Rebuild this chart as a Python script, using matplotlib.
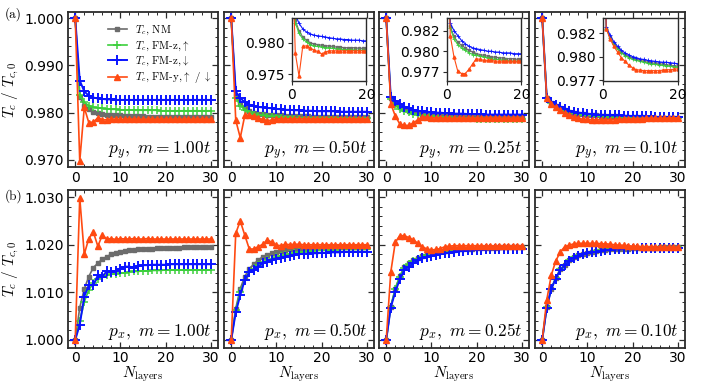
import numpy as np
import matplotlib
matplotlib.use("Agg")
import matplotlib.pyplot as plt
from matplotlib.ticker import MultipleLocator, FixedLocator

plt.rcParams['mathtext.fontset'] = 'cm'
plt.rcParams['font.family'] = 'DejaVu Sans'

N = np.arange(31)

# ---------------- top row: p_y ----------------
py_labels = ['1.00', '0.50', '0.25', '0.10']
py_nm = [
    [1.000, 0.9834, 0.9815, 0.9807, 0.9802, 0.9799, 0.9797, 0.9796, 0.9795, 0.9794, 0.9794, 0.9793, 0.9793, 0.9792, 0.9792, 0.9792,
     0.9791, 0.9791, 0.9791, 0.9791, 0.9791, 0.9790, 0.9790, 0.9790, 0.9790, 0.9790, 0.9790, 0.9790, 0.9790, 0.9790, 0.9790],
    [1.000, 0.9836, 0.9819, 0.9809, 0.9804, 0.9800, 0.9798, 0.9797, 0.9796, 0.9795, 0.9795, 0.9794, 0.9793, 0.9793, 0.9792, 0.9792,
     0.9792, 0.9792, 0.9791, 0.9791, 0.9791, 0.9791, 0.9791, 0.9790, 0.9790, 0.9790, 0.9790, 0.9790, 0.9790, 0.9790, 0.9790],
    [1.000, 0.9830, 0.9818, 0.9811, 0.9807, 0.9804, 0.9801, 0.9799, 0.9797, 0.9796, 0.9795, 0.9794, 0.9793, 0.9793, 0.9792, 0.9792,
     0.9791, 0.9791, 0.9791, 0.9790, 0.9790, 0.9790, 0.9790, 0.9790, 0.9790, 0.9790, 0.9790, 0.9790, 0.9790, 0.9790, 0.9790],
    [1.000, 0.9831, 0.9821, 0.9814, 0.9809, 0.9805, 0.9802, 0.9800, 0.9798, 0.9797, 0.9796, 0.9795, 0.9794, 0.9793, 0.9793, 0.9792,
     0.9792, 0.9791, 0.9791, 0.9790, 0.9790, 0.9790, 0.9790, 0.9789, 0.9789, 0.9789, 0.9789, 0.9789, 0.9789, 0.9789, 0.9789],
]
py_up = [
    [1.000, 0.9838, 0.9822, 0.9815, 0.9812, 0.9810, 0.9809, 0.9808, 0.9807, 0.9807, 0.9806, 0.9806, 0.9806, 0.9805, 0.9805, 0.9805,
     0.9805, 0.9805, 0.9805, 0.9804, 0.9804, 0.9804, 0.9804, 0.9804, 0.9804, 0.9804, 0.9804, 0.9804, 0.9804, 0.9804, 0.9804],
    [1.000, 0.9832, 0.9815, 0.9806, 0.9801, 0.9797, 0.9795, 0.9794, 0.9793, 0.9792, 0.9792, 0.9791, 0.9790, 0.9790, 0.9789, 0.9789,
     0.9789, 0.9788, 0.9788, 0.9788, 0.9788, 0.9788, 0.9788, 0.9788, 0.9788, 0.9788, 0.9788, 0.9788, 0.9788, 0.9788, 0.9788],
    [1.000, 0.9828, 0.9815, 0.9808, 0.9804, 0.9801, 0.9798, 0.9796, 0.9795, 0.9794, 0.9793, 0.9792, 0.9791, 0.9790, 0.9790, 0.9789,
     0.9789, 0.9788, 0.9788, 0.9788, 0.9787, 0.9787, 0.9787, 0.9787, 0.9787, 0.9787, 0.9787, 0.9787, 0.9787, 0.9787, 0.9787],
    [1.000, 0.9830, 0.9820, 0.9813, 0.9808, 0.9804, 0.9801, 0.9799, 0.9797, 0.9796, 0.9795, 0.9794, 0.9793, 0.9792, 0.9792, 0.9791,
     0.9791, 0.9790, 0.9790, 0.9789, 0.9789, 0.9789, 0.9789, 0.9788, 0.9788, 0.9788, 0.9788, 0.9788, 0.9788, 0.9788, 0.9788],
]
py_dn = [
    [1.000, 0.9868, 0.9845, 0.9836, 0.9832, 0.9830, 0.9829, 0.9828, 0.9828, 0.9827, 0.9827, 0.9827, 0.9827, 0.9827, 0.9827, 0.9827,
     0.9827, 0.9827, 0.9827, 0.9827, 0.9827, 0.9827, 0.9827, 0.9827, 0.9827, 0.9827, 0.9827, 0.9827, 0.9827, 0.9827, 0.9827],
    [1.000, 0.9845, 0.9831, 0.9822, 0.9817, 0.9814, 0.9812, 0.9811, 0.9810, 0.9809, 0.9808, 0.9807, 0.9806, 0.9806, 0.9805, 0.9805,
     0.9804, 0.9804, 0.9804, 0.9803, 0.9803, 0.9803, 0.9803, 0.9803, 0.9802, 0.9802, 0.9802, 0.9802, 0.9802, 0.9802, 0.9802],
    [1.000, 0.9834, 0.9825, 0.9819, 0.9813, 0.9809, 0.9806, 0.9804, 0.9803, 0.9802, 0.9801, 0.9800, 0.9800, 0.9799, 0.9799, 0.9798,
     0.9798, 0.9798, 0.9797, 0.9797, 0.9797, 0.9797, 0.9796, 0.9796, 0.9796, 0.9796, 0.9796, 0.9796, 0.9796, 0.9796, 0.9796],
    [1.000, 0.9832, 0.9823, 0.9816, 0.9811, 0.9807, 0.9804, 0.9802, 0.9800, 0.9799, 0.97975, 0.9797, 0.9796, 0.97955, 0.9795, 0.97945,
     0.9794, 0.9794, 0.97935, 0.9793, 0.97925, 0.9792, 0.9792, 0.9792, 0.9792, 0.9791, 0.9791, 0.9791, 0.9791, 0.9791, 0.9791],
]
py_y = [
    [1.000, 0.9697, 0.9811, 0.9779, 0.9780, 0.9789, 0.9785, 0.9785, 0.9787, 0.9786, 0.9786, 0.9786, 0.9787, 0.9786, 0.9786, 0.9786,
     0.9786, 0.9786, 0.9786, 0.9786, 0.9786, 0.9786, 0.9786, 0.9786, 0.9786, 0.9786, 0.9786, 0.9786, 0.9786, 0.9786, 0.9786],
    [1.000, 0.9784, 0.9747, 0.9794, 0.9795, 0.9792, 0.9788, 0.9786, 0.9782, 0.9785, 0.9787, 0.9787, 0.9787, 0.9787, 0.9787, 0.9787,
     0.9787, 0.9787, 0.9787, 0.9787, 0.9787, 0.9787, 0.9787, 0.9787, 0.9787, 0.9787, 0.9787, 0.9787, 0.9787, 0.9787, 0.9787],
    [1.000, 0.9819, 0.9793, 0.9776, 0.9773, 0.9773, 0.9778, 0.9785, 0.9791, 0.9790, 0.9789, 0.9789, 0.9789, 0.9788, 0.9788, 0.9788,
     0.9788, 0.9788, 0.9788, 0.9788, 0.9788, 0.9788, 0.9788, 0.9788, 0.9788, 0.9788, 0.9788, 0.9788, 0.9788, 0.9788, 0.9788],
    [1.000, 0.9830, 0.9819, 0.9811, 0.9805, 0.9799, 0.9795, 0.9791, 0.9788, 0.9786, 0.97856, 0.9785, 0.9785, 0.9785, 0.9785, 0.9785,
     0.97855, 0.9786, 0.9786, 0.97865, 0.9787, 0.9787, 0.97875, 0.9788, 0.9788, 0.9788, 0.9788, 0.9788, 0.9789, 0.9789, 0.9789],
]

# ---------------- bottom row: p_x ----------------
px_nm = [
    [1.000, 1.0068, 1.0107, 1.0133, 1.0152, 1.0161, 1.0170, 1.0175, 1.0180, 1.0183, 1.0185, 1.0187, 1.0188, 1.0189, 1.0190, 1.0191,
     1.0192, 1.0192, 1.0193, 1.0193, 1.0194, 1.0194, 1.0194, 1.0194, 1.0195, 1.0195, 1.0195, 1.0195, 1.0195, 1.0195, 1.0195],
    [1.000, 1.0066, 1.0108, 1.0133, 1.0150, 1.0159, 1.0168, 1.0175, 1.0178, 1.0182, 1.0185, 1.0187, 1.0189, 1.0190, 1.0191, 1.0192,
     1.0192, 1.0193, 1.0193, 1.0194, 1.0194, 1.0195, 1.0195, 1.0195, 1.0195, 1.0196, 1.0196, 1.0196, 1.0196, 1.0196, 1.0196],
    [1.000, 1.0070, 1.0108, 1.0134, 1.0153, 1.0161, 1.0167, 1.0173, 1.0177, 1.0180, 1.0182, 1.0184, 1.0186, 1.0187, 1.0188, 1.0189,
     1.0190, 1.0191, 1.0192, 1.0192, 1.0193, 1.0193, 1.0194, 1.0194, 1.0194, 1.0195, 1.0195, 1.0195, 1.0195, 1.0195, 1.0195],
    [1.000, 1.0069, 1.0108, 1.0130, 1.0148, 1.0158, 1.0167, 1.0174, 1.0178, 1.0181, 1.0183, 1.0185, 1.0186, 1.0188, 1.0189, 1.0190,
     1.0191, 1.0191, 1.0192, 1.0192, 1.0193, 1.0193, 1.0194, 1.0194, 1.0194, 1.0194, 1.0195, 1.0195, 1.0195, 1.0195, 1.0195],
]
px_up = [
    [1.000, 1.0040, 1.0080, 1.0105, 1.0119, 1.0128, 1.0133, 1.0136, 1.0138, 1.0139, 1.0140, 1.0141, 1.0143, 1.0144, 1.0144, 1.0145,
     1.0145, 1.0146, 1.0146, 1.0146, 1.0147, 1.0147, 1.0147, 1.0147, 1.0147, 1.0147, 1.0147, 1.0147, 1.0147, 1.0147, 1.0147],
    [1.000, 1.0062, 1.0101, 1.0126, 1.0143, 1.0150, 1.0158, 1.0163, 1.0167, 1.0171, 1.0174, 1.0177, 1.0179, 1.0181, 1.0183, 1.0184,
     1.0185, 1.0186, 1.0187, 1.0188, 1.0188, 1.0189, 1.0189, 1.0189, 1.0190, 1.0190, 1.0190, 1.0190, 1.0190, 1.0190, 1.0190],
    [1.000, 1.0070, 1.0107, 1.0133, 1.0151, 1.0159, 1.0165, 1.0171, 1.0175, 1.0178, 1.0180, 1.0182, 1.0184, 1.0185, 1.0186, 1.0187,
     1.0188, 1.0189, 1.0190, 1.0190, 1.0191, 1.0191, 1.0192, 1.0192, 1.0192, 1.0193, 1.0193, 1.0193, 1.0193, 1.0193, 1.0193],
    [1.000, 1.0069, 1.0108, 1.0130, 1.0148, 1.0158, 1.0167, 1.0174, 1.0178, 1.0181, 1.0183, 1.0185, 1.0186, 1.0188, 1.0189, 1.0190,
     1.0191, 1.0191, 1.0192, 1.0192, 1.0193, 1.0193, 1.0194, 1.0194, 1.0194, 1.0194, 1.0195, 1.0195, 1.0195, 1.0195, 1.0195],
]
px_dn = [
    [1.000, 1.0032, 1.0091, 1.0115, 1.0115, 1.0136, 1.0133, 1.0145, 1.0143, 1.0144, 1.0150, 1.0154, 1.0154, 1.0152, 1.0155, 1.0157,
     1.0157, 1.0158, 1.0158, 1.0158, 1.0158, 1.0159, 1.0159, 1.0159, 1.0159, 1.0159, 1.0159, 1.0159, 1.0159, 1.0159, 1.0159],
    [1.000, 1.0058, 1.0094, 1.0126, 1.0142, 1.0147, 1.0154, 1.0161, 1.0164, 1.0167, 1.0171, 1.0173, 1.0175, 1.0177, 1.0178, 1.0180,
     1.0181, 1.0181, 1.0182, 1.0182, 1.0183, 1.0183, 1.0184, 1.0184, 1.0184, 1.0185, 1.0185, 1.0185, 1.0185, 1.0185, 1.0185],
    [1.000, 1.0068, 1.0101, 1.0127, 1.0147, 1.0154, 1.0161, 1.0168, 1.0173, 1.0175, 1.0177, 1.0179, 1.0180, 1.0182, 1.0183, 1.0185,
     1.0186, 1.0187, 1.0188, 1.0188, 1.0189, 1.0189, 1.0190, 1.0190, 1.0190, 1.0190, 1.0191, 1.0191, 1.0191, 1.0191, 1.0191],
    [1.000, 1.0068, 1.0107, 1.0129, 1.0147, 1.0157, 1.0166, 1.0173, 1.0177, 1.0180, 1.0182, 1.0184, 1.0185, 1.0187, 1.0188, 1.0189,
     1.0190, 1.0190, 1.0191, 1.0191, 1.0192, 1.0192, 1.0193, 1.0193, 1.0193, 1.0193, 1.0194, 1.0194, 1.0194, 1.0194, 1.0194],
]
px_y = [
    [1.000, 1.0299, 1.0180, 1.0213, 1.0227, 1.0197, 1.0220, 1.0212, 1.0213, 1.0211, 1.0213, 1.0212, 1.0212, 1.0213, 1.0212, 1.0212,
     1.0213, 1.0212, 1.0212, 1.0212, 1.0212, 1.0212, 1.0212, 1.0212, 1.0212, 1.0212, 1.0212, 1.0212, 1.0212, 1.0212, 1.0212],
    [1.000, 1.0224, 1.0250, 1.0220, 1.0191, 1.0191, 1.0196, 1.0201, 1.0210, 1.0205, 1.0199, 1.0198, 1.0201, 1.0200, 1.0201, 1.0201,
     1.0200, 1.0200, 1.0200, 1.0200, 1.0200, 1.0200, 1.0200, 1.0200, 1.0200, 1.0200, 1.0200, 1.0200, 1.0200, 1.0200, 1.0200],
    [1.000, 1.0142, 1.0205, 1.0219, 1.0219, 1.0215, 1.0210, 1.0203, 1.0196, 1.0191, 1.0189, 1.0190, 1.0192, 1.0196, 1.0197, 1.0198,
     1.0198, 1.0198, 1.0198, 1.0198, 1.0198, 1.0198, 1.0198, 1.0198, 1.0198, 1.0198, 1.0198, 1.0198, 1.0198, 1.0198, 1.0198],
    [1.000, 1.0084, 1.0136, 1.0166, 1.0185, 1.0196, 1.0199, 1.0202, 1.0203, 1.0203, 1.0203, 1.0203, 1.0203, 1.0202, 1.0202, 1.0201,
     1.0200, 1.0199, 1.0199, 1.0198, 1.0197, 1.0197, 1.0196, 1.0196, 1.0196, 1.0196, 1.0195, 1.0195, 1.0195, 1.0195, 1.0195],
]

top_yticks = [0.970, 0.980, 0.990, 1.000]
top_yticklabels = ['0.970', '0.980', '0.990', '1.000']
bot_yticks = [1.000, 1.010, 1.020, 1.030]
bot_yticklabels = ['1.000', '1.010', '1.020', '1.030']
inset1_yticks = [0.975, 0.980]
inset1_yticklabels = ['0.975', '0.980']
inset2_yticks = [0.9775, 0.9800, 0.9825]
inset2_yticklabels = ['0.977', '0.980', '0.982']
inset_ylims = [None, (0.9739, 0.9839), (0.9764, 0.9840), (0.9774, 0.9841)]

legend_labels = [r'$T_c$, NM', r'$T_c$, FM-z,$\uparrow$', r'$T_c$, FM-z,$\downarrow$',
                 r'$T_c$, FM-y,$\uparrow$ / $\downarrow$']

C_NM = '#6c6c6c'
C_UP = '#3ccf3c'
C_DN = '#0a14ff'
C_Y = '#ff4a12'
SPINE = '#2b2b2b'

W, H = 701, 385
fig = plt.figure(figsize=(W / 100, H / 100), dpi=100)

col_left = [68, 224, 379, 535]
col_w = 150
rows = [(12, 167), (190, 348)]


def px_axes(l, t, w, b):
    return fig.add_axes([l / W, 1 - b / H, w / W, (b - t) / H])


def style(ax):
    for s in ax.spines.values():
        s.set_color(SPINE)
        s.set_linewidth(1.3)
    ax.tick_params(which='both', direction='in', top=True, right=True, colors=SPINE, labelcolor='black',
                   labelsize=10)
    ax.tick_params(which='major', length=4, width=0.9, pad=3)
    ax.tick_params(which='minor', length=2, width=0.7)
    ax.set_xlim(-1.6, 31.6)
    ax.xaxis.set_major_locator(FixedLocator([0, 10, 20, 30]))
    ax.xaxis.set_minor_locator(MultipleLocator(2))


def draw(ax, nm, up, dn, yy, small=False):
    if small:
        kw = dict(lw=0.8)
        ax.plot(N, nm, color=C_NM, marker='s', ms=1.6, **kw)
        ax.plot(N, up, color=C_UP, marker='+', ms=2.5, mew=0.6, **kw)
        ax.plot(N, dn, color=C_DN, marker='+', ms=2.5, mew=0.6, **kw)
        ax.plot(N, yy, color=C_Y, marker='^', ms=2.2, **kw)
    else:
        h1, = ax.plot(N, nm, color=C_NM, marker='s', ms=3.2, lw=1.2)
        h2, = ax.plot(N, up, color=C_UP, marker='+', ms=6, mew=1.1, lw=1.2)
        h3, = ax.plot(N, dn, color=C_DN, marker='+', ms=6.5, mew=1.4, lw=1.4)
        h4, = ax.plot(N, yy, color=C_Y, marker='^', ms=3.8, lw=1.2)
        return [h1, h2, h3, h4]


for i in range(4):
    # top row
    t, b = rows[0]
    ax = px_axes(col_left[i], t, col_w, b)
    style(ax)
    hs = draw(ax, py_nm[i], py_up[i], py_dn[i], py_y[i])
    ax.set_ylim(0.9685, 1.0013)
    ax.yaxis.set_major_locator(FixedLocator(top_yticks))
    ax.yaxis.set_minor_locator(MultipleLocator(0.002))
    if i == 0:
        ax.set_yticklabels(top_yticklabels)
        ax.set_ylabel(r'$T_c\ /\ T_{c,0}$', fontsize=11, labelpad=2)
        ax.legend(hs, legend_labels, loc='upper left', bbox_to_anchor=(0.26, 0.93), frameon=False,
                  prop={'family': 'cmr10', 'size': 7.8}, handlelength=1.7, handletextpad=0.8,
                  labelspacing=0.2, numpoints=1, borderaxespad=0.0, borderpad=0.1)
    else:
        ax.set_yticklabels([])
    ax.text(0.955, 0.035, r'$p_y,\ m = %st$' % py_labels[i], transform=ax.transAxes,
            ha='right', va='bottom', fontsize=12.5)
    if i > 0:
        ins = ax.inset_axes([0.45, 0.555, 0.50, 0.405])
        draw(ins, py_nm[i], py_up[i], py_dn[i], py_y[i], small=True)
        ins.set_xlim(0, 20)
        ins.set_ylim(*inset_ylims[i])
        ins.set_xticks([0, 20])
        ins.set_xticklabels(['0', '20'])
        if i == 1:
            ins.set_yticks(inset1_yticks)
            ins.set_yticklabels(inset1_yticklabels)
        else:
            ins.set_yticks(inset2_yticks)
            ins.set_yticklabels(inset2_yticklabels)
        for s in ins.spines.values():
            s.set_color(SPINE)
            s.set_linewidth(1.0)
        ins.tick_params(direction='out', length=3, width=0.8, labelsize=10, pad=2, colors=SPINE,
                        labelcolor='black')

    # bottom row
    t, b = rows[1]
    ax = px_axes(col_left[i], t, col_w, b)
    style(ax)
    draw(ax, px_nm[i], px_up[i], px_dn[i], px_y[i])
    ax.set_ylim(0.9983, 1.0315)
    ax.yaxis.set_major_locator(FixedLocator(bot_yticks))
    ax.yaxis.set_minor_locator(MultipleLocator(0.002))
    ax.tick_params(axis='x', which='major', pad=2.5)
    if i == 0:
        ax.set_yticklabels(bot_yticklabels)
        ax.set_ylabel(r'$T_c\ /\ T_{c,0}$', fontsize=11, labelpad=2)
    else:
        ax.set_yticklabels([])
    ax.set_xlabel(r'$N_{\mathrm{layers}}$', fontsize=11, labelpad=-1)
    ax.text(0.955, 0.035, r'$p_x,\ m = %st$' % py_labels[i], transform=ax.transAxes,
            ha='right', va='bottom', fontsize=12.5)

fig.text(5 / W, 1 - 14 / H, '(a)', family='cmr10', fontsize=9.5, va='center', ha='left')
fig.text(5 / W, 1 - 196 / H, '(b)', family='cmr10', fontsize=9.5, va='center', ha='left')

fig.savefig('out.png', dpi=100)
